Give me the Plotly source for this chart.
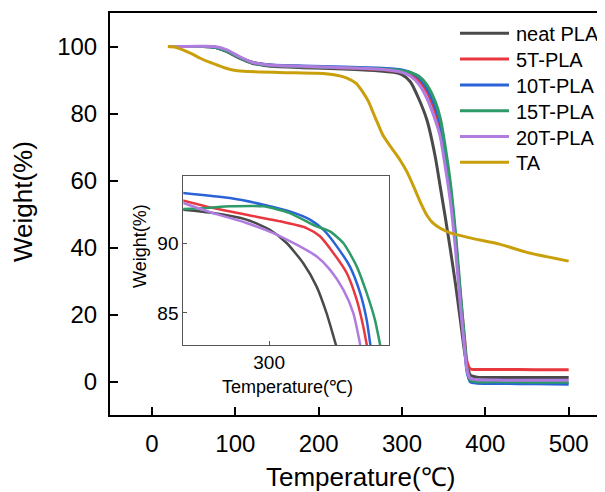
import plotly.graph_objects as go

# ---------------- data ----------------
series_names = ["neat PLA", "5T-PLA", "10T-PLA", "15T-PLA", "20T-PLA", "TA"]
series_colors = ["#4a4a4a", "#e8373e", "#2a62d8", "#2e9a68", "#b07ce0", "#c9a00c"]

pla_T = [20, 60, 75, 90, 105, 120, 140, 180, 230, 270, 290, 300, 310, 320, 330,
         340, 346, 352, 358, 364, 370, 375, 378, 382, 390, 420, 460, 500]

neat_W = [100, 100, 99.8, 98.5, 96.5, 95.0, 94.2, 93.7, 93.3, 92.8, 92.3, 91.6, 89.5, 84.5, 78,
          67, 58, 49, 39.5, 29.5, 18.5, 9, 5, 2.0, 1.4, 1.3, 1.3, 1.3]
t5_W = [100, 100, 99.8, 98.6, 96.8, 95.3, 94.5, 94.0, 93.6, 93.2, 92.8, 92.4, 91.6, 90.0, 86.5,
        80.5, 75.5, 67, 56.5, 43, 26, 13, 6, 3.8, 3.7, 3.7, 3.6, 3.6]
t10_W = [100, 100, 99.8, 98.6, 96.8, 95.3, 94.6, 94.2, 93.9, 93.6, 93.3, 93.0, 92.3, 90.8, 87.5,
         82, 77, 68, 58, 43, 25, 11, 3, 0, -0.4, -0.5, -0.6, -0.7]
t15_W = [100, 100, 99.8, 98.6, 96.7, 95.2, 94.4, 94.0, 93.7, 93.4, 93.1, 92.8, 92.3, 91.2, 88.5,
         83.5, 78.5, 70, 59.5, 45, 27, 12.5, 4, 0.4, 0, 0, -0.1, -0.1]
t20_W = [100, 100.1, 100, 99, 97, 95.3, 94.5, 94.1, 93.7, 93.3, 92.8, 92.3, 91.2, 88.8, 84.5,
         78, 73, 64, 54, 40, 23, 10, 3.5, 1.0, 0.6, 0.5, 0.5, 0.5]

ta_T = [19, 28, 37, 48, 58, 68, 78, 88, 97, 110, 130, 160, 198, 220, 234, 245, 253, 260, 265,
        271, 277, 285, 292, 298, 306, 314, 322, 330, 337, 346, 358, 380, 418, 450, 500]
ta_W = [100, 99.8, 99, 97.8, 96.5, 95.4, 94.5, 93.6, 93, 92.6, 92.4, 92.2, 92, 91.5, 90.6, 89,
        86.4, 83.5, 80.5, 77, 73.6, 70.6, 68.2, 66, 62.6, 58.2, 53.6, 49.6, 47.4, 45.8, 44.4,
        43, 41, 38.6, 36]

# inset (zoomed) readings
in_neat_T = [274, 283.7, 293.4, 300.2, 305.1, 309.9, 313.8, 316.7, 319.7]
in_neat_W = [92.4, 92.14, 91.67, 90.95, 90.0, 88.57, 86.9, 85.0, 82.5]
in_t5_T = [274, 283.7, 293.4, 303.2, 310.9, 314.8, 318.7, 322.6, 325.5, 327.4, 328.6]
in_t5_W = [93.1, 92.5, 92.02, 91.55, 91.07, 90.48, 89.29, 87.86, 85.95, 84.05, 82.5]
in_t10_T = [274, 288.6, 298.3, 306, 311.9, 315.8, 319.7, 323.5, 326.5, 328.4, 329.6]
in_t10_W = [93.6, 93.21, 92.74, 92.26, 91.67, 90.95, 89.76, 88.33, 86.43, 84.52, 82.5]
in_t15_T = [274, 281.8, 288.6, 298.3, 306, 313.8, 317.7, 321.6, 325.5, 328.4, 330.8, 332.5]
in_t15_W = [92.42, 92.5, 92.62, 92.62, 92.14, 91.19, 90.83, 90.0, 88.33, 86.43, 84.52, 82.5]
in_t20_T = [274, 283.7, 293.4, 301.2, 308, 313.8, 317.7, 321.6, 324.5, 326.7]
in_t20_W = [92.95, 92.14, 91.43, 90.71, 89.88, 89.05, 88.1, 86.67, 85.0, 82.5]

main_x_ticks = [0, 100, 200, 300, 400, 500]
main_y_ticks = [0, 20, 40, 60, 80, 100]
inset_x_ticks = [300]
inset_y_ticks = [85, 90]

# ---------------- figure ----------------
FONT = "Arial, 'Liberation Sans', sans-serif"
SERIF = "'Times New Roman', 'Liberation Serif', serif"

# the page shows the figure with an 8px body margin: convert screen px -> figure px
OFF = 8
FIG_W, FIG_H = 605, 492
PX_L, PX_R, PX_T, PX_B = 110 - OFF, 605 - OFF, 13 - OFF, 415 - OFF
W_PLOT, H_PLOT = PX_R - PX_L, PX_B - PX_T


def px(x):  # screen x -> paper x
    return (x - OFF - PX_L) / W_PLOT


def py(y):  # screen y -> paper y
    return (PX_B - (y - OFF)) / H_PLOT


fig = go.Figure()

main_sets = [(pla_T, neat_W), (pla_T, t5_W), (pla_T, t10_W), (pla_T, t15_W), (pla_T, t20_W), (ta_T, ta_W)]
for name, color, (tx, wy) in zip(series_names, series_colors, main_sets):
    fig.add_trace(go.Scatter(x=tx, y=wy, mode="lines", name=name, showlegend=False,
                             line=dict(color=color, width=3, shape="spline", smoothing=0.6),
                             xaxis="x", yaxis="y"))

inset_sets = [(in_neat_T, in_neat_W), (in_t5_T, in_t5_W), (in_t10_T, in_t10_W),
              (in_t15_T, in_t15_W), (in_t20_T, in_t20_W)]
for name, color, (tx, wy) in zip(series_names[:5], series_colors[:5], inset_sets):
    fig.add_trace(go.Scatter(x=tx, y=wy, mode="lines", name=name, showlegend=False,
                             line=dict(color=color, width=2.5, shape="spline", smoothing=0.6),
                             xaxis="x2", yaxis="y2"))

# legend drawn as line samples + labels
shapes = []
annotations = []
for i, (name, color) in enumerate(zip(series_names, series_colors)):
    yc = 33.3 + 25.8 * i
    shapes.append(dict(type="line", xref="paper", yref="paper",
                       x0=px(460), x1=px(509), y0=py(yc), y1=py(yc),
                       line=dict(color=color, width=3)))
    annotations.append(dict(text=name, x=px(514), y=py(yc + 1), xref="paper", yref="paper",
                            xanchor="left", yanchor="middle", showarrow=False,
                            font=dict(size=20, family=FONT)))

annotations += [
    dict(text='Temperature(<span style="font-family:' + SERIF + '">℃</span>)',
         x=px(360), y=py(477), xref="paper", yref="paper", xanchor="center",
         yanchor="middle", showarrow=False, font=dict(size=26, family=FONT)),
    dict(text="Weight(%)", x=px(23), y=py(202), xref="paper", yref="paper",
         xanchor="center", yanchor="middle", textangle=-90, showarrow=False,
         font=dict(size=26, family=FONT)),
    dict(text='Temperature(<span style="font-family:' + SERIF + '">℃</span>)',
         x=px(287), y=py(387), xref="paper", yref="paper", xanchor="center",
         yanchor="middle", showarrow=False, font=dict(size=18, family=FONT)),
    dict(text="Weight(%)", x=px(140), y=py(246), xref="paper", yref="paper",
         xanchor="center", yanchor="middle", textangle=-90, showarrow=False,
         font=dict(size=18, family=FONT)),
]

fig.update_layout(
    width=FIG_W, height=FIG_H,
    margin=dict(l=PX_L, r=FIG_W - PX_R, t=PX_T, b=FIG_H - PX_B, autoexpand=False),
    paper_bgcolor="white", plot_bgcolor="white",
    font=dict(family=FONT, color="black"),
    showlegend=False,
    xaxis=dict(domain=[0, 1], range=[-50.4, 543.6], tickvals=main_x_ticks,
               ticks="inside", ticklen=8, tickwidth=2, tickcolor="black",
               showline=True, linecolor="black", linewidth=2, mirror=True,
               showgrid=False, zeroline=False, tickfont=dict(size=24, family=FONT),
               ticklabelstandoff=6),
    yaxis=dict(domain=[0, 1], range=[-9.9, 110], tickvals=main_y_ticks,
               ticks="inside", ticklen=8, tickwidth=2, tickcolor="black",
               showline=True, linecolor="black", linewidth=2, mirror=False,
               showgrid=False, zeroline=False, tickfont=dict(size=24, family=FONT),
               ticklabelstandoff=6),
    xaxis2=dict(domain=[px(183.3), px(389.3)], anchor="y2", range=[275, 335],
                tickvals=inset_x_ticks, ticks="inside", ticklen=4, tickwidth=1,
                tickcolor="#555", showline=True, linecolor="#555", linewidth=1,
                mirror=True, showgrid=False, zeroline=False,
                tickfont=dict(size=19, family=FONT)),
    yaxis2=dict(domain=[py(345), py(176)], anchor="x2", range=[82.71, 94.79],
                tickvals=inset_y_ticks, ticks="inside", ticklen=4, tickwidth=1,
                tickcolor="#555", showline=True, linecolor="#555", linewidth=1,
                mirror=True, showgrid=False, zeroline=False,
                tickfont=dict(size=19, family=FONT)),
    shapes=shapes,
    annotations=annotations,
)

fig.write_html("out.html")
